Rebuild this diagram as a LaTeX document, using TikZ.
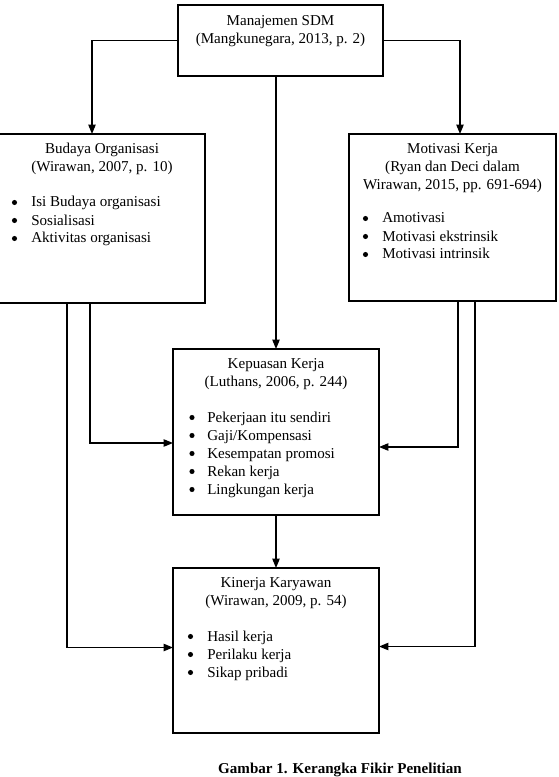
\documentclass[tikz,border=0pt]{standalone}
\usepackage{fontspec}
\setmainfont{Liberation Serif}
\usetikzlibrary{arrows.meta,calc,positioning}

\tikzset{
  kotak/.style={draw, line width=1.1pt, inner sep=0pt, outer sep=0pt},
  panah/.style={line width=0.9pt, -{Triangle[length=7pt,width=5.5pt]}},
  isi/.style={inner sep=0pt, font=\fontsize{11.3}{13.5}\selectfont},
  titik/.style={radius=1.9pt}
}

\begin{document}
\begin{tikzpicture}[x=0.75pt,y=-0.75pt]
\useasboundingbox (0,0) rectangle (559,777);
% draw boxes
\node[kotak, minimum width=153.75pt, minimum height=53.25pt] (sdm) at (280.5,40.5) {};
\node[kotak, minimum width=154.5pt, minimum height=126.75pt] (budaya) at (102,218.5) {};
\node[kotak, minimum width=155.25pt, minimum height=125.25pt] (motivasi) at (452.5,217.5) {};
\node[kotak, minimum width=154.5pt, minimum height=124.5pt] (kepuasan) at (276,432) {};
\node[kotak, minimum width=154.5pt, minimum height=123.75pt] (kinerja) at (276,650.5) {};
% draw box titles
\node[isi, anchor=base] (sdmjudul) at ($(sdm.north)+(0,21)$)
  {\begin{tabular}[t]{@{}c@{}}Manajemen SDM\\(Mangkunegara, 2013, p. 2)\end{tabular}};
\node[isi, anchor=base] (budayajudul) at ($(budaya.north)+(0,20)$)
  {\begin{tabular}[t]{@{}c@{}}Budaya Organisasi\\(Wirawan, 2007, p. 10)\end{tabular}};
\node[isi, anchor=base] (motivasijudul) at ($(motivasi.north)+(0,20)$)
  {\begin{tabular}[t]{@{}c@{}}Motivasi Kerja\\(Ryan dan Deci dalam\\Wirawan, 2015, pp. 691-694)\end{tabular}};
\node[isi, anchor=base] (kepuasanjudul) at ($(kepuasan.north)+(0,19)$)
  {\begin{tabular}[t]{@{}c@{}}Kepuasan Kerja\\(Luthans, 2006, p. 244)\end{tabular}};
\node[isi, anchor=base] (kinerjajudul) at ($(kinerja.north)+(0,19)$)
  {\begin{tabular}[t]{@{}c@{}}Kinerja Karyawan\\(Wirawan, 2009, p. 54)\end{tabular}};
% draw bullet lists
\node[isi, anchor=base west] (budayaisi) at ($(budaya.north west)+(32,73)$)
  {\begin{tabular}[t]{@{}l@{}}Isi Budaya organisasi\\Sosialisasi\\Aktivitas organisasi\end{tabular}};
\node[isi, anchor=base west] (motivasiisi) at ($(motivasi.north west)+(33,89)$)
  {\begin{tabular}[t]{@{}l@{}}Amotivasi\\Motivasi ekstrinsik\\Motivasi intrinsik\end{tabular}};
\node[isi, anchor=base west] (kepuasanisi) at ($(kepuasan.north west)+(34,73)$)
  {\begin{tabular}[t]{@{}l@{}}Pekerjaan itu sendiri\\Gaji/Kompensasi\\Kesempatan promosi\\Rekan kerja\\Lingkungan kerja\end{tabular}};
\node[isi, anchor=base west] (kinerjaisi) at ($(kinerja.north west)+(34,73)$)
  {\begin{tabular}[t]{@{}l@{}}Hasil kerja\\Perilaku kerja\\Sikap pribadi\end{tabular}};
% draw bullets
\foreach \i in {0,1,2} \fill ($(budaya.north west)+(15.5,68.5+18*\i)$) circle[titik];
\foreach \i in {0,1,2} \fill ($(motivasi.north west)+(16.5,84.5+18*\i)$) circle[titik];
\foreach \i in {0,...,4} \fill ($(kepuasan.north west)+(19,68.5+18*\i)$) circle[titik];
\foreach \i in {0,1,2} \fill ($(kinerja.north west)+(17.5,68.5+18*\i)$) circle[titik];
% draw arrows
\draw[panah] (sdm.west) -| ($(budaya.north west)+(93,0)$);
\draw[panah] (sdm.east) -| ($(motivasi.north west)+(111,0)$);
\draw[panah] (kepuasan.north |- sdm.south) -- (kepuasan.north);
\draw[panah] ($(budaya.south west)+(68,0)$) |- ($(kinerja.west)+(0,-3)$);
\draw[panah] ($(budaya.south west)+(91,0)$) |- ($(kepuasan.west)+(0,11)$);
\draw[panah] ($(motivasi.south west)+(109,0)$) |- ($(kepuasan.east)+(0,15)$);
\draw[panah] ($(motivasi.south west)+(126,0)$) |- ($(kinerja.east)+(0,-4)$);
\draw[panah] (kepuasan.south) -- (kinerja.north);
% draw caption
\node[isi, font=\fontsize{11.3}{13.5}\selectfont\bfseries, anchor=base] (gambar) at (340,773.5)
  {Gambar 1. Kerangka Fikir Penelitian};
\end{tikzpicture}
\end{document}
